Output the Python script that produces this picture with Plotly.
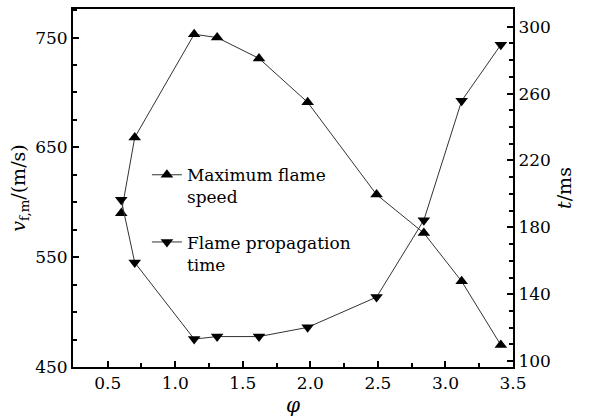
import plotly.graph_objects as go

phi = [0.60, 0.70, 1.14, 1.31, 1.62, 1.98, 2.49, 2.84, 3.12, 3.41]
max_speed = [590, 659, 753, 750, 731, 691, 607, 572, 528, 470]
prop_time = [196.5, 159, 113.2, 114.7, 114.7, 120.2, 138.3, 184.3, 255.7, 289.2]

FONT = "DejaVu Serif"

fig = go.Figure()
fig.add_trace(go.Scatter(
    x=phi, y=max_speed, mode="lines+markers",
    name="Maximum flame<br>speed", legendgroup="a",
    line=dict(color="#333333", width=1),
    marker=dict(symbol="triangle-up", size=11, color="black"),
    yaxis="y"))
fig.add_trace(go.Scatter(
    x=phi, y=prop_time, mode="lines+markers",
    name="Flame propagation<br>time", legendgroup="b",
    line=dict(color="#333333", width=1),
    marker=dict(symbol="triangle-down", size=11, color="black"),
    yaxis="y2"))

axis_common = dict(showline=True, linecolor="black", linewidth=2,
                   ticks="inside", ticklen=6, tickwidth=2, tickcolor="black",
                   showgrid=False, zeroline=False,
                   tickfont=dict(family=FONT, size=17, color="black"))

fig.update_layout(
    width=611, height=420,
    margin=dict(l=73, r=98, t=7, b=51),
    paper_bgcolor="white", plot_bgcolor="white",
    font=dict(family=FONT, color="black"),
    xaxis=dict(range=[0.243, 3.5], tick0=0.5, dtick=0.5, tickformat=".1f",
               mirror=True,
               minor=dict(ticks="inside", dtick=0.25, tick0=0, ticklen=4,
                          tickwidth=2, tickcolor="black"),
               title=dict(text="<i>φ</i>", font=dict(family=FONT, size=20), standoff=6),
               **axis_common),
    yaxis=dict(range=[450, 776], tick0=450, dtick=100,
               minor=dict(ticks="inside", dtick=25, tick0=450, ticklen=4,
                          tickwidth=2, tickcolor="black"),
               title=dict(text="<i>v</i><sub>f,m</sub>/(m/s)", font=dict(family=FONT, size=19), standoff=4),
               **axis_common),
    yaxis2=dict(range=[96.5, 310.6], tick0=100, dtick=40, overlaying="y", side="right",
                minor=dict(ticks="inside", dtick=10, tick0=100, ticklen=4,
                           tickwidth=2, tickcolor="black"),
                title=dict(text="<i>t</i>/ms", font=dict(family=FONT, size=19), standoff=8),
                **axis_common),
    legend=dict(x=0.168, y=0.586, xanchor="left", yanchor="top",
                bgcolor="rgba(0,0,0,0)", valign="top",
                font=dict(family=FONT, size=17, color="black"),
                tracegroupgap=20, itemwidth=30),
    showlegend=True,
)

fig.write_html("out.html")
